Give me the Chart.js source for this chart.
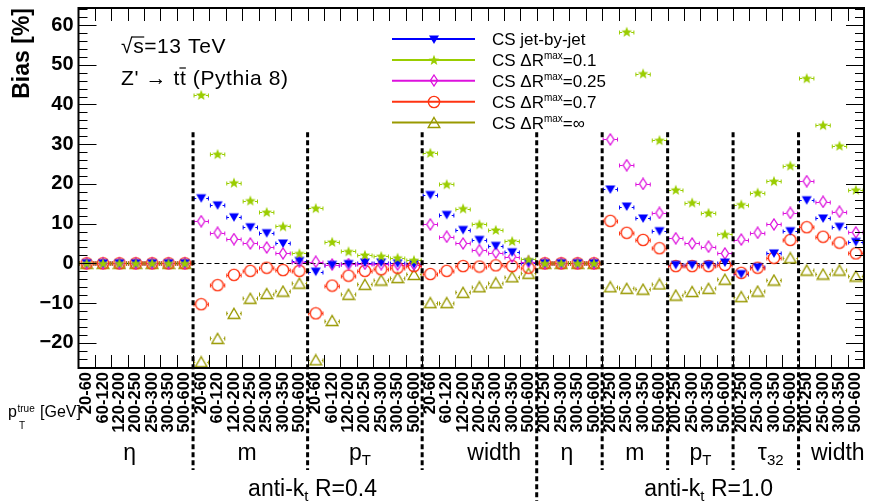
<!DOCTYPE html>
<html>
<head>
<meta charset="utf-8">
<script src="https://cdn.jsdelivr.net/npm/chart.js@4.4.1/dist/chart.umd.min.js"></script>
<style>
  html, body { margin: 0; padding: 0; background: #fff; }
  #box { position: relative; width: 871px; height: 501px; }
</style>
</head>
<body>
<div id="box"><canvas id="bias" width="871" height="501"></canvas></div>
<script>
// Bias [%] of CS subtraction vs pT^true bin, for each observable
const ptBinsR04 = ['20-60', '60-120', '120-200', '200-250', '250-300', '300-350', '500-600'];
const ptBinsR10 = ['200-250', '250-300', '300-350', '500-600'];
const obsR04 = ['η', 'm', 'pT', 'width'];
const obsR10 = ['η', 'm', 'pT', 'τ32', 'width'];
const labels = [...obsR04.flatMap(() => ptBinsR04), ...obsR10.flatMap(() => ptBinsR10)];

// order: R=0.4 eta, m, pT, width | R=1.0 eta, m, pT, tau32, width
const jetByJet = [
  0, 0, 0, 0, 0, 0, 0,
  16.4, 14.6, 11.6, 9.1, 7.6, 5.0, 0.6,
  -2.1, -0.4, -0.2, 0.2, 0.2, 0.0, -0.2,
  17.2, 12.2, 8.4, 5.9, 4.4, 2.8, 0.2,
  0, 0, 0, 0,
  18.6, 14.3, 11.3, 8.1,
  -0.4, -0.4, -0.4, 0.2,
  -2.7, -1.0, 2.5, 8.1,
  15.9, 11.3, 9.2, 5.4
];
const drMax01 = [
  0, 0, 0, 0, 0, 0, 0,
  42.4, 27.5, 20.3, 15.8, 12.9, 9.3, 2.5,
  13.9, 5.4, 3.0, 2.1, 1.8, 1.4, 0.8,
  27.8, 19.9, 13.8, 9.8, 8.4, 5.6, 1.0,
  0, 0, 0, 0,
  75, 58.3, 47.8, 31.0,
  18.5, 15.3, 12.7, 7.3,
  14.8, 17.8, 20.7, 24.6,
  46.6, 34.8, 29.6, 18.5
];
const drMax025 = [
  0, 0, 0, 0, 0, 0, 0,
  10.6, 7.7, 6.1, 5.0, 4.0, 2.5, 0.4,
  0.4, -0.3, -0.2, -0.1, -0.2, -0.3, -0.3,
  9.8, 6.7, 5.0, 3.3, 2.7, 1.7, 0.4,
  0, 0, 0, 0,
  31.2, 24.7, 20.0, 12.7,
  6.3, 5.0, 4.2, 2.5,
  6.0, 7.7, 9.8, 12.7,
  20.7, 15.5, 13.0, 7.8
];
const drMax07 = [
  0, 0, 0, 0, 0, 0, 0,
  -10.3, -5.5, -2.9, -1.9, -1.1, -1.7, -1.9,
  -12.6, -5.6, -3.1, -1.9, -1.5, -1.1, -0.7,
  -2.7, -1.9, -0.7, -0.8, -0.5, -0.7, -1.1,
  0, 0, 0, 0,
  10.7, 7.7, 5.9, 3.8,
  -0.7, -0.7, -0.7, -0.4,
  -2.4, -1.1, 1.4, 5.9,
  9.1, 6.7, 5.2, 2.5
];
const drMaxInf = [
  0, 0, 0, 0, 0, 0, 0,
  -24.8, -18.9, -12.6, -8.8, -7.6, -7.0, -5.0,
  -24.3, -14.4, -7.8, -5.3, -4.2, -3.6, -2.8,
  -9.9, -9.9, -7.3, -5.9, -4.9, -3.4, -2.5,
  0, 0, 0, 0,
  -5.9, -6.3, -6.5, -5.2,
  -8.0, -7.1, -6.3, -4.0,
  -8.4, -7.0, -4.2, 1.4,
  -1.7, -2.7, -1.7, -3.2
];
const yTicks = [-20, -10, 0, 10, 20, 30, 40, 50, 60];
const legendLabels = [['CS jet-by-jet'], ['CS ΔR', 'max', '=0.1'], ['CS ΔR', 'max', '=0.25'], ['CS ΔR', 'max', '=0.7'], ['CS ΔR', 'max', '=∞']];

const separators = [7, 14, 21, 28, 32, 36, 40, 44];
const radiusSplit = 28;
const obsLabelPos = [3.13, 10.3, 17.2, 25.4, 29.85, 34.0, 38.0, 42.3, 46.4];
const radiusLabels = ['0.4', '1.0'];
const radiusLabelPos = [14.3, 38.5];

const FONT = "'Liberation Sans', Arial, Helvetica, sans-serif";
const colors = ['#0000ff', '#9acd00', '#dd11dd', '#ff3311', '#999900'];

function marker(w, h, draw) {
  const c = document.createElement('canvas');
  c.width = w; c.height = h;
  draw(c.getContext('2d'));
  return c;
}
const markers = [
  marker(12, 11, g => { g.fillStyle = colors[0]; g.beginPath(); g.moveTo(1, 1.5); g.lineTo(11, 1.5); g.lineTo(6, 10); g.closePath(); g.fill(); }),
  marker(12, 12, g => {
    g.fillStyle = colors[1]; g.beginPath();
    for (let k = 0; k < 10; k++) {
      const r = k % 2 ? 2.4 : 5.6, a = -Math.PI / 2 + k * Math.PI / 5;
      g.lineTo(6 + r * Math.cos(a), 6.4 + r * Math.sin(a));
    }
    g.closePath(); g.fill();
  }),
  marker(10, 13, g => { g.strokeStyle = colors[2]; g.lineWidth = 1.3; g.beginPath(); g.moveTo(5, 1); g.lineTo(8.6, 6.5); g.lineTo(5, 12); g.lineTo(1.4, 6.5); g.closePath(); g.stroke(); }),
  marker(14, 14, g => { g.strokeStyle = colors[3]; g.lineWidth = 1.4; g.beginPath(); g.arc(7, 7, 5.6, 0, Math.PI * 2); g.stroke(); }),
  marker(14, 13, g => { g.strokeStyle = colors[4]; g.lineWidth = 1.4; g.beginPath(); g.moveTo(7, 1.5); g.lineTo(12.8, 11.5); g.lineTo(1.2, 11.5); g.closePath(); g.stroke(); })
];
const gaps = [5, 4.5, 4, 6, 6];
const drawOrder = [1, 0, 2, 3, 4];
const seriesData = [jetByJet, drMax01, drMax025, drMax07, drMaxInf];

function rich(ctx, parts, x, y, align) {
  let w = 0;
  parts.forEach(p => { ctx.font = `${p.w || 'normal'} ${p.s}px ${FONT}`; w += ctx.measureText(p.t).width; });
  let cx = align === 'center' ? x - w / 2 : x;
  const out = [];
  parts.forEach(p => {
    ctx.font = `${p.w || 'normal'} ${p.s}px ${FONT}`;
    ctx.fillText(p.t, cx, y + (p.dy || 0));
    const pw = ctx.measureText(p.t).width;
    out.push([cx, pw]);
    cx += pw;
  });
  return out;
}
function obsParts(name) {
  if (name === 'pT') return [{ t: 'p', s: 23 }, { t: 'T', s: 15, dy: 5 }];
  if (name === 'τ32') return [{ t: 'τ', s: 23 }, { t: '32', s: 15, dy: 5 }];
  return [{ t: name, s: 23 }];
}

const errorBars = {
  id: 'errorBars',
  beforeDatasetsDraw(chart) {
    const { ctx, chartArea: a, scales: { x, y } } = chart;
    ctx.save();
    ctx.beginPath(); ctx.rect(a.left, a.top, a.width, a.height); ctx.clip();
    // zero line
    ctx.strokeStyle = '#000'; ctx.lineWidth = 1; ctx.setLineDash([5, 3]);
    const y0 = Math.round(y.getPixelForValue(0)) + 0.5;
    ctx.beginPath(); ctx.moveTo(a.left, y0); ctx.lineTo(a.right, y0); ctx.stroke();
    ctx.setLineDash([]);
    chart.data.datasets.forEach((ds, s) => {
      ctx.strokeStyle = colors[s];
      ds.data.forEach((v, i) => {
        if (v == null) return;
        const px = x.getPixelForValue(i);
        const py = Math.round(y.getPixelForValue(v)) + 0.5;
        const l = x.getPixelForValue(i - 0.5) + 1, r = x.getPixelForValue(i + 0.5) - 1;
        const g = gaps[s];
        ctx.beginPath();
        ctx.moveTo(l, py); ctx.lineTo(px - g, py);
        ctx.moveTo(px + g, py); ctx.lineTo(r, py);
        ctx.moveTo(l, py - 2); ctx.lineTo(l, py + 2);
        ctx.moveTo(r, py - 2); ctx.lineTo(r, py + 2);
        ctx.stroke();
      });
    });
    ctx.restore();
  }
};

const decorations = {
  id: 'decorations',
  afterDraw(chart) {
    const { ctx, chartArea: a, scales: { x, y } } = chart;
    ctx.save();
    ctx.strokeStyle = '#000'; ctx.fillStyle = '#000';
    // ticks inside the frame
    ctx.lineWidth = 1;
    ctx.beginPath();
    for (let b = 1; b < labels.length; b++) {
      const px = Math.round(x.getPixelForValue(b - 0.5)) + 0.5;
      ctx.moveTo(px, a.top); ctx.lineTo(px, a.top + 13);
      ctx.moveTo(px, a.bottom); ctx.lineTo(px, a.bottom - 13);
    }
    for (let v = -26; v <= 64; v += 2) {
      const py = Math.round(y.getPixelForValue(v)) + 0.5;
      const len = v % 10 === 0 ? 18 : 9;
      ctx.moveTo(a.left, py); ctx.lineTo(a.left + len, py);
      ctx.moveTo(a.right, py); ctx.lineTo(a.right - len, py);
    }
    ctx.stroke();
    ctx.lineWidth = 2;
    ctx.strokeRect(a.left, a.top, a.width, a.height);

    // dashed separators
    ctx.lineWidth = 3; ctx.setLineDash([5, 3]);
    const yTop = y.getPixelForValue(33);
    separators.forEach(b => {
      const px = x.getPixelForValue(b - 0.5);
      ctx.beginPath(); ctx.moveTo(px, yTop); ctx.lineTo(px, b === radiusSplit ? 501 : 470); ctx.stroke();
    });
    ctx.setLineDash([]);

    // x-axis title and group labels
    ctx.textAlign = 'left'; ctx.textBaseline = 'alphabetic';
    rich(ctx, [{ t: 'p', s: 16 }], 8, 417);
    rich(ctx, [{ t: 'true', s: 10 }], 17.5, 412);
    rich(ctx, [{ t: 'T', s: 10 }], 19, 429);
    rich(ctx, [{ t: '[GeV]', s: 16 }], 40, 417);
    [...obsR04, ...obsR10].forEach((name, k) => {
      rich(ctx, obsParts(name), x.getPixelForValue(obsLabelPos[k] - 0.5), 460, 'center');
    });
    radiusLabels.forEach((r, k) => {
      rich(ctx, [{ t: 'anti-k', s: 23 }, { t: 't', s: 15, dy: 5 }, { t: ' R=' + r, s: 23 }], x.getPixelForValue(radiusLabelPos[k] - 0.5), 496, 'center');
    });

    // header
    ctx.letterSpacing = '0.6px';
    const sq = rich(ctx, [{ t: '√', s: 21 }, { t: 's', s: 21 }, { t: '=13 TeV', s: 21 }], 121, 53);
    ctx.lineWidth = 1.2;
    ctx.beginPath(); ctx.moveTo(sq[0][0] + sq[0][1] - 1.5, 37); ctx.lineTo(sq[1][0] + sq[1][1], 37); ctx.stroke();
    const zt = rich(ctx, [{ t: 'Z\' → t', s: 21 }, { t: 't', s: 21 }, { t: ' (Pythia 8)', s: 21 }], 121, 85);
    ctx.beginPath(); ctx.moveTo(zt[1][0] - 0.5, 68); ctx.lineTo(zt[1][0] + zt[1][1] - 0.5, 68); ctx.stroke();
    ctx.letterSpacing = '0px';

    // legend
    legendLabels.forEach((lab, s) => {
      const ry = 39 + s * 20.9;
      ctx.strokeStyle = colors[s]; ctx.lineWidth = 2;
      ctx.beginPath(); ctx.moveTo(392, ry); ctx.lineTo(475, ry); ctx.stroke();
      const m = markers[s];
      ctx.drawImage(m, Math.round(433.5 - m.width / 2), Math.round(ry - m.height / 2));
      ctx.fillStyle = '#000';
      const parts = lab.length === 1 ? [{ t: lab[0], s: 17 }] : [{ t: lab[0], s: 17 }, { t: lab[1], s: 10, dy: -7 }, { t: lab[2], s: 17 }];
      rich(ctx, parts, 492, ry + 6);
    });
    ctx.restore();
  }
};

Chart.defaults.font.family = FONT;
Chart.defaults.color = '#000';

new Chart(document.getElementById('bias'), {
  type: 'line',
  data: {
    labels,
    datasets: seriesData.map((d, s) => ({
      label: legendLabels[s].join(''),
      data: d,
      showLine: false,
      order: drawOrder[s],
      pointStyle: markers[s],
      pointRadius: 6,
      pointHoverRadius: 6,
      borderColor: colors[s],
      backgroundColor: colors[s]
    }))
  },
  options: {
    responsive: false,
    animation: false,
    events: [],
    layout: { padding: { top: 8, right: 2, left: 0, bottom: 0 } },
    plugins: { legend: { display: false }, tooltip: { enabled: false } },
    scales: {
      x: {
        type: 'category',
        offset: true,
        grid: { display: false, drawTicks: false },
        border: { display: false },
        ticks: { autoSkip: false, maxRotation: 90, minRotation: 90, padding: 4, font: { size: 16.5, weight: 'bold' }, color: '#000' },
        afterFit(s) { s.height = 133; s.paddingLeft = 0; s.paddingRight = 0; }
      },
      y: {
        min: -26.36,
        max: 64.3,
        afterBuildTicks(s) { s.ticks = yTicks.map(v => ({ value: v })); },
        afterFit(s) { s.width = 78.5; s.paddingTop = 0; s.paddingBottom = 0; },
        grid: { display: false, drawTicks: false },
        border: { display: false },
        ticks: { padding: 5, font: { size: 20, weight: 'bold' }, color: '#000', callback: v => (v < 0 ? '\u2212' + Math.abs(v) : String(v)) },
        title: { display: true, text: 'Bias [%]', align: 'end', font: { size: 23, weight: 'bold' }, color: '#000', padding: { top: 9, bottom: 0 } }
      }
    }
  },
  plugins: [errorBars, decorations]
});
</script>
</body>
</html>
